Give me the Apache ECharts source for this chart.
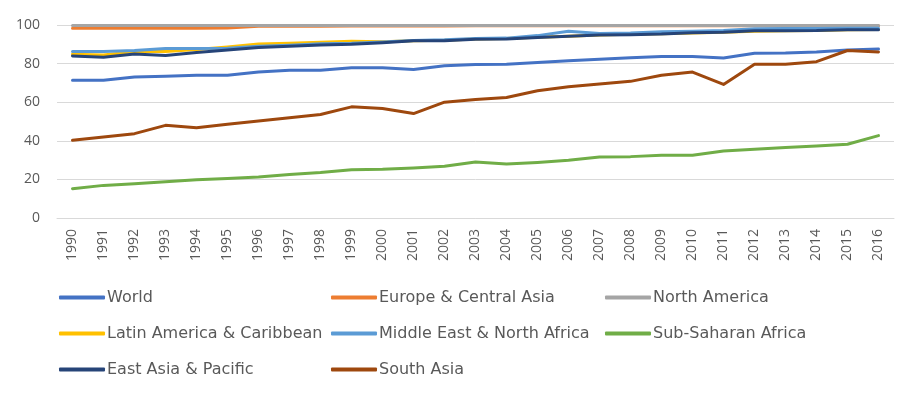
<!DOCTYPE html>
<html>
<head>
<meta charset="utf-8">
<script src="https://cdn.jsdelivr.net/npm/echarts@6/dist/echarts.min.js"></script>
<style>html,body{margin:0;padding:0;background:#fff;}#c{width:918px;height:397px;}</style>
</head>
<body>
<div id="c"></div>
<script>
var years = ['1990','1991','1992','1993','1994','1995','1996','1997','1998','1999','2000','2001','2002','2003','2004','2005','2006','2007','2008','2009','2010','2011','2012','2013','2014','2015','2016'];
var yTicks = [0, 20, 40, 60, 80, 100];
var world = [71.4, 71.4, 73.1, 73.5, 74, 74, 75.7, 76.6, 76.6, 77.8, 77.8, 76.9, 78.9, 79.5, 79.7, 80.6, 81.5, 82.3, 83, 83.7, 83.7, 82.9, 85.4, 85.5, 86, 87.1, 87.6];
var europe = [98.3, 98.3, 98.3, 98.3, 98.3, 98.4, 99.3, 99.4, 99.4, 99.5, 99.5, 99.5, 99.5, 99.6, 99.6, 99.6, 99.6, 99.6, 99.6, 99.6, 99.6, 99.6, 99.6, 99.6, 99.6, 99.6, 99.6];
var northAmerica = [99.7, 99.7, 99.7, 99.7, 99.7, 99.7, 99.7, 99.7, 99.7, 99.7, 99.7, 99.7, 99.7, 99.7, 99.7, 99.7, 99.7, 99.7, 99.7, 99.7, 99.7, 99.7, 99.7, 99.7, 99.7, 99.7, 99.7];
var latinAmerica = [84.8, 84.5, 86.3, 86.3, 87.3, 88.6, 90.2, 90.6, 91, 91.6, 91.3, 91.9, 92.1, 92.8, 93, 93.6, 94.2, 94.8, 95.2, 95.5, 95.9, 96.2, 96.8, 97, 97.2, 97.6, 97.7];
var middleEast = [86.3, 86.3, 86.8, 87.8, 87.8, 88, 89, 89.5, 90.3, 90.5, 91.2, 92, 92.3, 93, 93.2, 94.5, 96.8, 95.6, 95.8, 96.5, 96.8, 97.2, 98, 98.2, 98.2, 98.3, 98.3];
var subSaharan = [15.2, 16.9, 17.8, 18.8, 19.8, 20.5, 21.2, 22.6, 23.6, 25, 25.2, 25.9, 26.8, 29, 28, 28.8, 29.9, 31.6, 31.8, 32.5, 32.5, 34.7, 35.6, 36.5, 37.3, 38.2, 42.7];
var eastAsia = [84, 83.3, 85, 84.2, 85.8, 87, 88.3, 89, 89.7, 90, 90.8, 91.8, 91.8, 92.6, 92.8, 93.5, 94.2, 94.8, 95, 95.3, 96, 96.3, 97, 97, 97.1, 97.6, 97.6];
var southAsia = [40.3, 42, 43.7, 48, 46.8, 48.6, 50.3, 51.9, 53.6, 57.6, 56.7, 54.1, 60, 61.4, 62.4, 65.9, 68, 69.4, 70.8, 74, 75.6, 69.2, 79.7, 79.7, 81, 86.8, 86];

var names = ['World','Europe & Central Asia','North America','Latin America & Caribbean','Middle East & North Africa','Sub-Saharan Africa','East Asia & Pacific','South Asia'];
var values = [world, europe, northAmerica, latinAmerica, middleEast, subSaharan, eastAsia, southAsia];
var colors = ['#4472C4','#ED7D31','#A5A5A5','#FFC000','#5B9BD5','#70AD47','#264478','#9E480E'];

var font = '"Open Sans", "Noto Sans", sans-serif';
var legendFont = '"DejaVu Sans", "Open Sans", sans-serif';
var textColor = '#595959';

function legendCol(left, data) {
  return {
    orient: 'vertical', left: left, top: 289, padding: 0,
    itemWidth: 46, itemHeight: 4, itemGap: 19,
    icon: 'roundRect',
    textStyle: { fontFamily: legendFont, fontSize: 16, lineHeight: 17, color: textColor, padding: [0, 0, 0, -3] },
    data: data
  };
}

var chart = echarts.init(document.getElementById('c'), null, { renderer: 'canvas' });
chart.setOption({
  animation: false,
  color: colors,
  grid: { left: 57, right: 24, top: 25, bottom: 179, containLabel: false },
  legend: [
    legendCol(59, [names[0], names[3], names[6]]),
    legendCol(331, [names[1], names[4], names[7]]),
    legendCol(605, [names[2], names[5]])
  ],
  xAxis: {
    type: 'category',
    data: years,
    boundaryGap: true,
    axisLine: { show: true, lineStyle: { color: '#d9d9d9', width: 1 } },
    axisTick: { show: false },
    axisLabel: { rotate: 90, margin: 11, fontFamily: font, fontSize: 14, color: textColor, interval: 0 }
  },
  yAxis: {
    type: 'value',
    min: yTicks[0], max: yTicks[yTicks.length - 1], interval: yTicks[1] - yTicks[0],
    axisLine: { show: false },
    axisTick: { show: false },
    splitLine: { lineStyle: { color: '#d9d9d9', width: 1 } },
    axisLabel: { margin: 17, fontFamily: font, fontSize: 14, color: textColor }
  },
  series: names.map(function (n, i) {
    return {
      name: n, type: 'line', data: values[i],
      symbol: 'none', showSymbol: false,
      lineStyle: { width: 3, color: colors[i], cap: 'round', join: 'round' },
      itemStyle: { color: colors[i] }
    };
  })
});
</script>
</body>
</html>
